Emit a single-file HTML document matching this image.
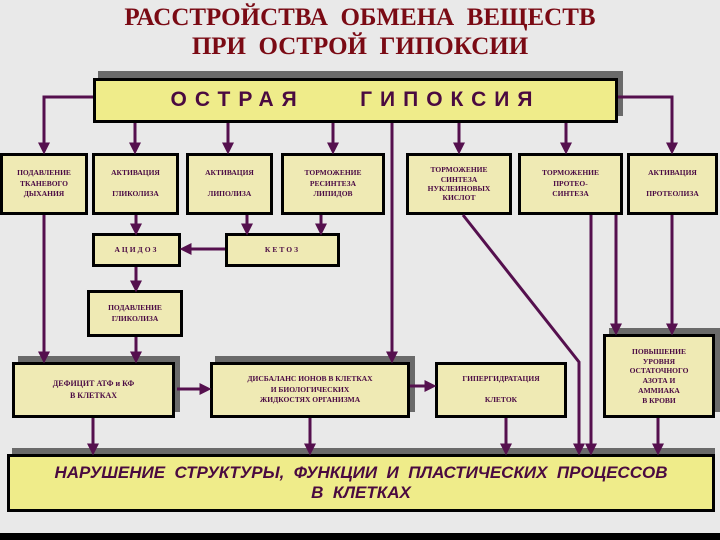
<!DOCTYPE html>
<html><head><meta charset="utf-8"><style>
body{margin:0;width:720px;height:540px;overflow:hidden;background:#e9e9e9;position:relative;font-family:"Liberation Serif","Noto Serif CJK SC",serif}
.t{position:absolute;left:0;width:720px;text-align:center;color:#7a0a14;font-weight:bold;font-size:25px;letter-spacing:0px}
.b{position:absolute;box-sizing:border-box;background:#efeab4;border:3px solid #000;color:#4a0a44;font-weight:bold;font-size:7.5px;text-align:center;display:flex;flex-direction:column;justify-content:center;line-height:1.45}
.sh{position:absolute;background:#6a6a6a}
svg{position:absolute;left:0;top:0}
</style></head><body>
<div class="t" style="top:4px">РАССТРОЙСТВА&nbsp; ОБМЕНА&nbsp; ВЕЩЕСТВ</div>
<div class="t" style="top:33px">ПРИ&nbsp; ОСТРОЙ&nbsp; ГИПОКСИИ</div>

<div class="sh" style="left:98px;top:71px;width:525px;height:45px"></div>
<div class="b" style="left:93px;top:78px;width:525px;height:45px;background:#efec8a;font-family:'Liberation Sans',sans-serif;font-size:21px;letter-spacing:8px;color:#4a0a40">ОСТРАЯ&nbsp;&nbsp;&nbsp;&nbsp;ГИПОКСИЯ</div>

<div class="b" style="left:0;top:153px;width:88px;height:62px">ПОДАВЛЕНИЕ<br>ТКАНЕВОГО<br>ДЫХАНИЯ</div>
<div class="b" style="left:92px;top:153px;width:87px;height:62px">АКТИВАЦИЯ<br><br>ГЛИКОЛИЗА</div>
<div class="b" style="left:186px;top:153px;width:87px;height:62px">АКТИВАЦИЯ<br><br>ЛИПОЛИЗА</div>
<div class="b" style="left:281px;top:153px;width:104px;height:62px">ТОРМОЖЕНИЕ<br>РЕСИНТЕЗА<br>ЛИПИДОВ</div>
<div class="b" style="left:406px;top:153px;width:106px;height:62px;line-height:1.25">ТОРМОЖЕНИЕ<br>СИНТЕЗА<br>НУКЛЕИНОВЫХ<br>КИСЛОТ</div>
<div class="b" style="left:518px;top:153px;width:105px;height:62px">ТОРМОЖЕНИЕ<br>ПРОТЕО-<br>СИНТЕЗА</div>
<div class="b" style="left:627px;top:153px;width:91px;height:62px">АКТИВАЦИЯ<br><br>ПРОТЕОЛИЗА</div>

<div class="b" style="left:92px;top:233px;width:89px;height:34px;letter-spacing:2px">АЦИДОЗ</div>
<div class="b" style="left:225px;top:233px;width:115px;height:34px;letter-spacing:2px">КЕТОЗ</div>
<div class="b" style="left:87px;top:290px;width:96px;height:47px">ПОДАВЛЕНИЕ<br>ГЛИКОЛИЗА</div>

<div class="sh" style="left:18px;top:356px;width:162px;height:56px"></div>
<div class="b" style="left:12px;top:362px;width:163px;height:56px;font-size:8px">ДЕФИЦИТ АТФ и КФ<br>В КЛЕТКАХ</div>
<div class="sh" style="left:215px;top:356px;width:200px;height:56px"></div>
<div class="b" style="left:210px;top:362px;width:200px;height:56px">ДИСБАЛАНС ИОНОВ В КЛЕТКАХ<br>И БИОЛОГИЧЕСКИХ<br>ЖИДКОСТЯХ ОРГАНИЗМА</div>
<div class="b" style="left:435px;top:362px;width:132px;height:56px">ГИПЕРГИДРАТАЦИЯ<br><br>КЛЕТОК</div>
<div class="sh" style="left:609px;top:328px;width:111px;height:84px"></div>
<div class="b" style="left:603px;top:334px;width:112px;height:84px;line-height:1.3">ПОВЫШЕНИЕ<br>УРОВНЯ<br>ОСТАТОЧНОГО<br>АЗОТА И<br>АММИАКА<br>В КРОВИ</div>

<div class="sh" style="left:12px;top:448px;width:703px;height:58px"></div>
<div class="b" style="left:7px;top:454px;width:708px;height:58px;background:#efec8a;font-family:'Liberation Sans',sans-serif;font-style:italic;font-size:17px;line-height:1.15;color:#4a0a40">НАРУШЕНИЕ&nbsp; СТРУКТУРЫ,&nbsp; ФУНКЦИИ&nbsp; И&nbsp; ПЛАСТИЧЕСКИХ&nbsp; ПРОЦЕССОВ<br>В&nbsp; КЛЕТКАХ</div>

<div style="position:absolute;left:0;top:533px;width:720px;height:7px;background:#000"></div>

<svg width="720" height="540">
<defs><marker id="a" markerWidth="4" markerHeight="4" refX="2.5" refY="2" orient="auto" markerUnits="strokeWidth"><path d="M0,0L4,2L0,4z" fill="#55104e"/></marker></defs>
<g stroke="#55104e" stroke-width="3" fill="none" marker-end="url(#a)">
<path d="M93,97H44V150"/>
<path d="M135,123V150"/><path d="M228,123V150"/><path d="M333,123V150"/>
<path d="M459,123V150"/><path d="M566,123V150"/>
<path d="M618,97H672V150"/>
<path d="M392,123V359"/>
<path d="M44,215V359"/>
<path d="M136,215V231"/><path d="M247,215V231"/><path d="M321,215V231"/>
<path d="M225,249H184"/>
<path d="M136,267V288"/>
<path d="M136,337V359"/>
<path d="M177,389H207"/>
<path d="M410,386H432"/>
<path d="M93,418V451"/><path d="M310,418V451"/><path d="M506,418V451"/><path d="M658,418V451"/>
<path d="M463,215L579,362V451"/>
<path d="M591,215V451"/>
<path d="M616,215V331"/><path d="M672,215V331"/>
</g>
</svg>
</body></html>
